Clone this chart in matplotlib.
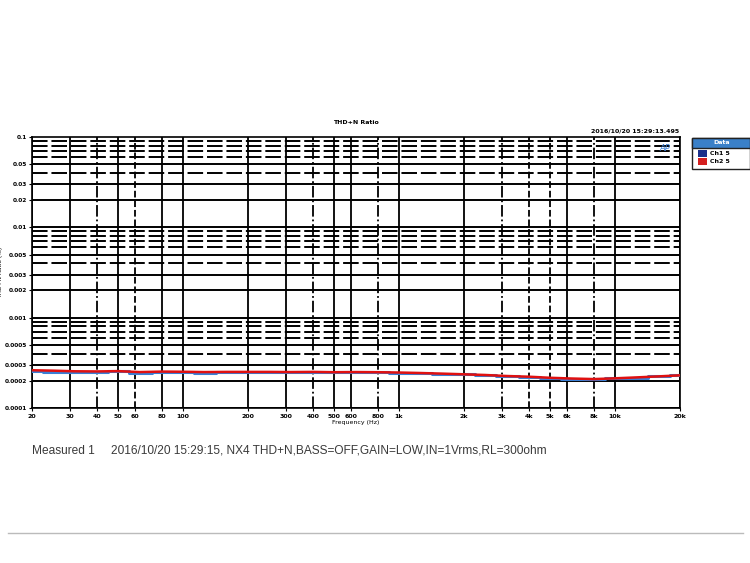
import numpy as np
import matplotlib.pyplot as plt
from matplotlib.lines import Line2D
from matplotlib.patches import Rectangle

# 频率点 (Hz)
freq = [20, 25, 31.5, 40, 50, 63, 80, 100, 125, 160, 200, 250, 315, 400, 500,
        630, 800, 1000, 1250, 1600, 2000, 2500, 3150, 4000, 5000, 6300, 8000,
        10000, 12500, 16000, 20000]
# THD+N (%)
ch2 = [0.000262, 0.000259, 0.000255, 0.000254, 0.000256, 0.000250, 0.000253,
       0.000252, 0.000250, 0.000251, 0.000251, 0.000251, 0.000250, 0.000251,
       0.000249, 0.000250, 0.000249, 0.000247, 0.000244, 0.000240, 0.000236,
       0.000232, 0.000226, 0.000222, 0.000216, 0.000212, 0.000209, 0.000213,
       0.000218, 0.000224, 0.000230]
ch1 = [0.000260, 0.000252, 0.000253, 0.000251, 0.000259, 0.000247, 0.000252,
       0.000253, 0.000247, 0.000250, 0.000251, 0.000253, 0.000252, 0.000248,
       0.000252, 0.000249, 0.000251, 0.000246, 0.000245, 0.000238, 0.000237,
       0.000229, 0.000227, 0.000223, 0.000217, 0.000212, 0.000210, 0.000214,
       0.000217, 0.000225, 0.000233]

xticks = [20, 30, 40, 50, 60, 80, 100, 200, 300, 400, 500, 600, 800,
          1000, 2000, 3000, 4000, 5000, 6000, 8000, 10000, 20000]
xlabels = ['20', '30', '40', '50', '60', '80', '100', '200', '300', '400', '500',
           '600', '800', '1k', '2k', '3k', '4k', '5k', '6k', '8k', '10k', '20k']
xstyles = ['-', '-', '-.', '-', '--', '-', '-', '-', '-', '-.', '-', '-', '-.',
           '-', '-', '-.', '--', '--', '-', '-.', '-', '-']
yticks = [0.1, 0.05, 0.03, 0.02, 0.01, 0.005, 0.003, 0.002, 0.001,
          0.0005, 0.0003, 0.0002, 0.0001]
ylabels = ['0.1', '0.05', '0.03', '0.02', '0.01', '0.005', '0.003', '0.002',
           '0.001', '0.0005', '0.0003', '0.0002', '0.0001']

fig = plt.figure(figsize=(7.5, 5.63), dpi=100)
ax = fig.add_axes([0.0427, 0.2753, 0.864, 0.4814])
ax.set_xscale('log')
ax.set_yscale('log')
ax.set_xlim(20, 20000)
ax.set_ylim(0.0001, 0.1)

# 网格线
for x, ls in zip(xticks, xstyles):
    ax.axvline(x, color='black', lw=1.3, ls=ls, zorder=1)
for dec in [0.0001, 0.001, 0.01]:
    for m in range(1, 10):
        y = dec * m
        if min(abs(y - t) / t for t in yticks) < 1e-6:
            ax.axhline(y, color='black', lw=1.4, ls='-', zorder=1)
        else:
            ax.axhline(y, color='black', lw=1.4, ls=(0, (8, 2)), zorder=1)

ax.step(freq, ch1, where='mid', color='#3a7fd5', lw=2.2, zorder=3)
ax.plot(freq, ch2, color='#e01010', lw=1.8, zorder=4)

ax.xaxis.set_minor_locator(plt.NullLocator())
ax.yaxis.set_minor_locator(plt.NullLocator())
ax.set_xticks(xticks)
ax.set_xticklabels(xlabels)
ax.set_yticks(yticks)
ax.set_yticklabels(ylabels)
ax.tick_params(axis='x', labelsize=4.5, length=2, pad=2)
ax.tick_params(axis='y', labelsize=4.2, length=2, pad=1.5)
for lab in ax.get_xticklabels() + ax.get_yticklabels():
    lab.set_fontweight('bold')
for s in ax.spines.values():
    s.set_linewidth(1.2)

ax.set_xlabel('Frequency (Hz)', fontsize=4.5, labelpad=1)
ax.set_ylabel('THD+N Ratio (%)', fontsize=4.2)
ax.yaxis.set_label_coords(-0.044, 0.5)
ax.set_title('THD+N Ratio', fontsize=4.5, fontweight='bold', pad=9)
fig.text(0.906, 0.762, '2016/10/20 15:29:13.495', fontsize=4.5,
         fontweight='bold', ha='right', va='bottom')
ax.text(0.985, 0.975, 'AP', transform=ax.transAxes, fontsize=6,
        color='#3a7fd5', style='italic', ha='right', va='top', zorder=5)

# 图例
lx, ly, lw_, lh = 0.923, 0.700, 0.077, 0.055
fig.patches.append(Rectangle((lx, ly), lw_, lh, transform=fig.transFigure,
                             fc='white', ec='#222222', lw=1))
fig.patches.append(Rectangle((lx, ly + lh - 0.017), lw_, 0.017,
                             transform=fig.transFigure, fc='#3a80c8', ec='#222222', lw=1))
fig.text(lx + lw_ / 2, ly + lh - 0.0085, 'Data', color='white', fontsize=4.5,
         fontweight='bold', ha='center', va='center')
for i, (name, c) in enumerate([('Ch1 5', '#1a2f8a'), ('Ch2 5', '#d42020')]):
    yy = ly + lh - 0.027 - i * 0.015
    fig.patches.append(Rectangle((lx + 0.008, yy - 0.006), 0.011, 0.012,
                                 transform=fig.transFigure, fc=c, ec='none'))
    fig.text(lx + 0.023, yy, name, fontsize=4.5, fontweight='bold', va='center')

fig.text(0.042, 0.199, 'Measured 1     2016/10/20 15:29:15, NX4 THD+N,BASS=OFF,GAIN=LOW,IN=1Vrms,RL=300ohm',
         fontsize=8.6, color='#3a3a3a', family='Liberation Sans', va='center')
fig.add_artist(Line2D([0.01, 0.99], [0.053, 0.053], color='#bbbbbb', lw=1))

fig.savefig('out.png', dpi=100)
